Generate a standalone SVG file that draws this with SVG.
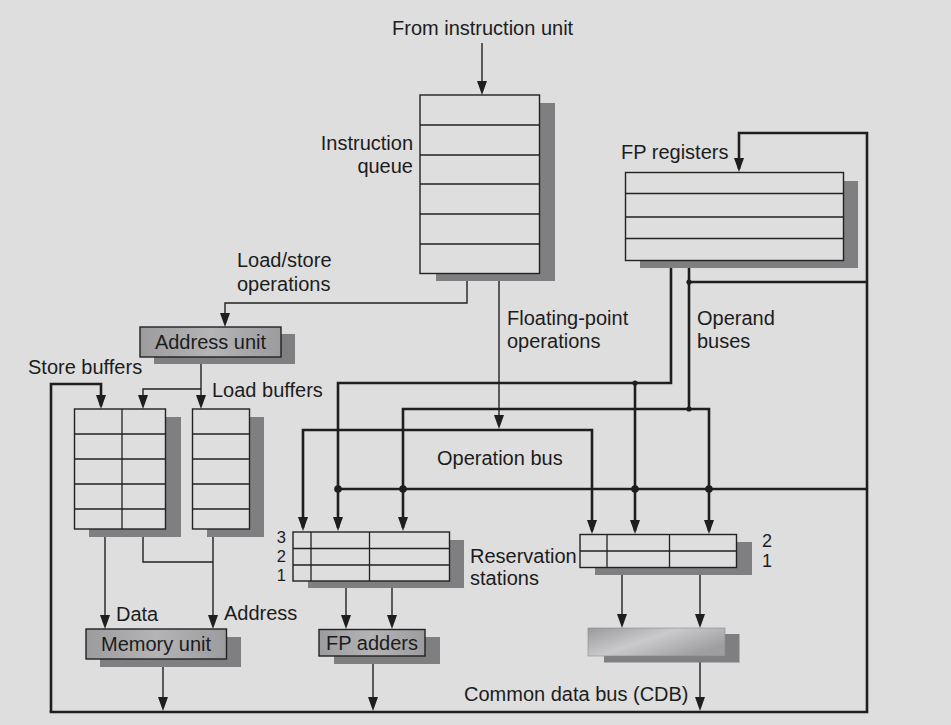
<svg xmlns="http://www.w3.org/2000/svg" width="951" height="725" viewBox="0 0 951 725">
<defs>
<style>
text{font-family:"Liberation Sans",Arial,sans-serif;font-size:20px;fill:#1c1c1c}
.num{font-size:16.5px}
.box{fill:#dedede;stroke:#222;stroke-width:1.4}
.div{stroke:#222;stroke-width:1.3;fill:none}
.sh{fill:#7f7f82}
.unit{fill:url(#ug);stroke:#222;stroke-width:1.4}
.thin{fill:none;stroke:#222;stroke-width:1.4}
.thick{fill:none;stroke:#1e1e1e;stroke-width:2.6}
.dot{fill:#1e1e1e}
</style>
<linearGradient id="ug" x1="0" y1="0" x2="1" y2="0">
<stop offset="0" stop-color="#9c9c9e"/>
<stop offset="0.5" stop-color="#b4b4b6"/>
<stop offset="1" stop-color="#9c9c9e"/>
</linearGradient>
<linearGradient id="mg" x1="0" y1="0" x2="1" y2="0.6">
<stop offset="0" stop-color="#9a9a9c"/>
<stop offset="0.5" stop-color="#cacacc"/>
<stop offset="1" stop-color="#9e9ea0"/>
</linearGradient>
<marker id="ar" viewBox="0 0 14 10" refX="11" refY="5" markerWidth="14" markerHeight="10" markerUnits="userSpaceOnUse" orient="auto-start-reverse">
<path d="M0,0 L14,5 L0,10 z" fill="#1e1e1e"/>
</marker>
</defs>
<rect x="0" y="0" width="951" height="725" fill="#dedede"/>

<g id="connectors">
<path class="thin" d="M482,43 V92" marker-end="url(#ar)"/>
<path class="thin" d="M467,273 V303 H225 V324" marker-end="url(#ar)"/>
<path class="thin" d="M499,273 V426" marker-end="url(#ar)"/>
<path class="thin" d="M201,357 V406" marker-end="url(#ar)"/>
<path class="thin" d="M201,389 H143 V406" marker-end="url(#ar)"/>
<path class="thick" d="M51,712 V384 H101 V406" marker-end="url(#ar)"/>
<path class="thin" d="M105,529 V626" marker-end="url(#ar)"/>
<path class="thin" d="M143,529 V562 H213"/>
<path class="thin" d="M213,529 V626" marker-end="url(#ar)"/>
<path class="thin" d="M163,659 V708" marker-end="url(#ar)"/>
<path class="thin" d="M373,656 V708" marker-end="url(#ar)"/>
<path class="thin" d="M346,581 V626" marker-end="url(#ar)"/>
<path class="thin" d="M392,581 V626" marker-end="url(#ar)"/>
<path class="thin" d="M622,568 V625" marker-end="url(#ar)"/>
<path class="thin" d="M700,568 V625" marker-end="url(#ar)"/>
<path class="thin" d="M700,656 V708" marker-end="url(#ar)"/>
<path class="thick" d="M49.7,712 H867 V133 H739 V169" marker-end="url(#ar)"/>
<path class="thick" d="M867,282 H689"/>
<path class="thick" d="M867,489 H338"/>
<path class="thick" d="M671,261 V383 H338 V528" marker-end="url(#ar)"/>
<path class="thick" d="M635,383 V531" marker-end="url(#ar)"/>
<path class="thick" d="M689,261 V409"/>
<path class="thick" d="M403,528 V409 H709 V531" marker-start="url(#ar)" marker-end="url(#ar)"/>
<path class="thick" d="M303,528 V430 H592 V531" marker-start="url(#ar)" marker-end="url(#ar)"/>
<circle class="dot" cx="689" cy="282" r="2.6"/>
<circle class="dot" cx="635" cy="383" r="2.6"/>
<circle class="dot" cx="689" cy="409" r="2.6"/>
<circle class="dot" cx="338" cy="489" r="3.8"/>
<circle class="dot" cx="403" cy="489" r="3.8"/>
<circle class="dot" cx="635" cy="489" r="3.8"/>
<circle class="dot" cx="709" cy="489" r="3.8"/>
</g>

<g id="labels">
<text x="392" y="35">From instruction unit</text>
<text x="413" y="150" text-anchor="end">Instruction</text>
<text x="413" y="173" text-anchor="end">queue</text>
<text x="237" y="267">Load/store</text>
<text x="237" y="291">operations</text>
<text x="507" y="325">Floating-point</text>
<text x="507" y="348">operations</text>
<text x="697" y="325">Operand</text>
<text x="697" y="348">buses</text>
<text x="28" y="374">Store buffers</text>
<text x="212" y="397">Load buffers</text>
<text x="437" y="465">Operation bus</text>
<text x="470" y="563">Reservation</text>
<text x="470" y="585">stations</text>
<text x="116" y="621">Data</text>
<text x="224" y="620">Address</text>
<text x="464" y="701">Common data bus (CDB)</text>
</g>

<g id="instruction-queue">
<rect class="sh" x="436" y="103" width="119" height="178"/>
<rect class="box" x="420" y="95" width="119.5" height="178.5"/>
<path class="div" d="M420,125 H539.5 M420,155 H539.5 M420,184 H539.5 M420,214 H539.5 M420,244 H539.5"/>
</g>

<g id="fp-registers">
<text x="621" y="159">FP registers</text>
<rect class="sh" x="640" y="181" width="218" height="87"/>
<rect class="box" x="625.5" y="172.5" width="218" height="88"/>
<path class="div" d="M625.5,193.5 H843.5 M625.5,217 H843.5 M625.5,238.5 H843.5"/>
</g>

<g id="address-unit">
<rect class="sh" x="154" y="334" width="141" height="30"/>
<rect class="unit" x="140" y="327" width="141" height="30"/>
<text x="210.5" y="348.5" text-anchor="middle">Address unit</text>
</g>

<g id="store-buffers">
<rect class="sh" x="89" y="417" width="92" height="120"/>
<rect class="box" x="74.5" y="409" width="91" height="120"/>
<path class="div" d="M122,409 V529 M74.5,434 H165.5 M74.5,459 H165.5 M74.5,484 H165.5 M74.5,509 H165.5"/>
</g>

<g id="load-buffers">
<rect class="sh" x="207" y="417" width="57" height="120"/>
<rect class="box" x="192.5" y="409" width="57" height="120"/>
<path class="div" d="M192.5,434 H249.5 M192.5,459 H249.5 M192.5,484 H249.5 M192.5,509 H249.5"/>
</g>

<g id="memory-unit">
<rect class="sh" x="100" y="637" width="141" height="30"/>
<rect class="unit" x="86" y="629" width="140.5" height="30"/>
<text x="156" y="650.5" text-anchor="middle">Memory unit</text>
</g>

<g id="reservation-stations-adders">
<rect class="sh" x="308" y="540" width="156" height="48"/>
<rect class="box" x="293" y="532" width="156.5" height="49"/>
<path class="div" d="M293,548.5 H449.5 M293,565 H449.5 M311,532 V581 M369.5,532 V581"/>
<text class="num" x="286" y="543" text-anchor="end">3</text>
<text class="num" x="286" y="562" text-anchor="end">2</text>
<text class="num" x="286" y="581" text-anchor="end">1</text>
</g>

<g id="fp-adders">
<rect class="sh" x="334" y="637" width="106" height="27"/>
<rect class="unit" x="319" y="629.5" width="106" height="26.5"/>
<text x="372" y="650" text-anchor="middle">FP adders</text>
</g>

<g id="reservation-stations-multipliers">
<rect class="sh" x="595" y="542" width="157" height="33"/>
<rect class="box" x="580" y="534.5" width="156.5" height="33"/>
<path class="div" d="M580,551 H736.5 M607,534.5 V567.5 M669.5,534.5 V567.5"/>
<text class="num" x="762" y="547" style="font-size:18px">2</text>
<text class="num" x="762" y="567" style="font-size:18px">1</text>
</g>

<g id="fp-multipliers">
<rect class="sh" x="604" y="634" width="135.5" height="28.5"/>
<rect x="588" y="628" width="137" height="28" fill="url(#mg)" stroke="#8a8a8c" stroke-width="0.6"/>
</g>
</svg>
